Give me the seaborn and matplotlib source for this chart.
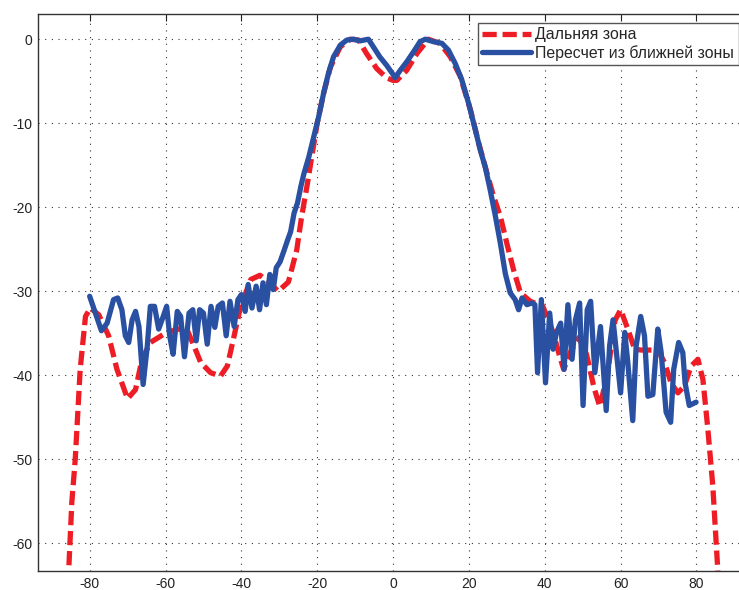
import numpy as np
import pandas as pd
import matplotlib
matplotlib.use("Agg")
import matplotlib.pyplot as plt
import seaborn as sns

# far-field pattern (red dashed)
far_angle = [-85.8, -85.5, -84.7, -83.8, -82.5, -81.1, -79.8, -77.6, -75.0, -72.8,
             -70.0, -67.9, -66.2, -64.0, -60.4, -56.9, -54.3, -52.5, -50.7, -48.1,
             -45.5, -43.7, -41.9, -40.2, -37.5, -35.1, -32.5, -30.3, -27.6, -25.4,
             -24.1, -22.7, -21.3, -20.0, -18.3, -16.5, -13.9, -11.3, -9.1, -7.0,
             -4.3, -1.7, 0.0, 1.0, 3.6, 6.3, 9.3, 12.4, 15.1, 17.7,
             20.4, 22.6, 24.8, 26.5, 28.3, 30.0, 31.8, 33.6, 36.2, 39.5,
             41.0, 42.2, 43.9, 45.0, 47.0, 49.0, 51.0, 53.0, 54.5, 56.5,
             58.5, 60.0, 61.9, 63.7, 65.4, 69.8, 71.6, 73.3, 75.1, 76.8,
             78.6, 80.4, 81.7, 83.0, 84.3, 85.6, 85.8]
far_level = [-65.0, -63.0, -55.1, -50.0, -39.3, -33.0, -32.0, -32.8, -35.3, -39.3,
             -42.8, -41.7, -38.1, -36.1, -35.1, -34.5, -34.6, -36.5, -38.5, -39.7,
             -40.1, -38.9, -35.3, -31.8, -28.6, -28.1, -29.0, -30.0, -28.9, -25.1,
             -21.1, -17.5, -13.6, -10.0, -6.4, -3.3, -0.9, 0.0, -0.1, -1.7,
             -3.5, -4.6, -4.9, -4.9, -3.7, -1.7, 0.0, -0.5, -2.1, -4.4,
             -8.4, -12.4, -16.0, -18.7, -21.1, -24.3, -27.5, -30.2, -31.2, -31.8,
             -33.5, -34.9, -37.7, -39.3, -37.0, -35.5, -37.5, -41.5, -43.7, -40.0,
             -33.5, -32.2, -34.5, -36.9, -37.0, -37.0, -38.5, -40.9, -42.1, -41.3,
             -38.9, -38.1, -40.5, -46.4, -53.1, -63.0, -65.0]

# recomputed from near field (blue solid)
near_angle = [-80.0, -78.5, -76.9, -75.4, -73.7, -72.6, -71.5, -70.6, -69.7, -68.8,
              -67.9, -67.0, -65.9, -64.8, -64.0, -62.9, -61.8, -60.6, -59.7, -58.9,
              -58.0, -56.9, -56.0, -55.0, -53.8, -52.8, -51.9, -51.0, -50.0, -49.0,
              -48.0, -47.0, -46.1, -45.0, -44.0, -43.0, -41.9, -40.9, -40.0, -39.0,
              -38.2, -37.2, -36.1, -35.2, -34.3, -33.4, -32.5, -31.6, -30.8, -29.8,
              -28.7, -27.8, -27.0, -26.1, -25.2, -24.3, -23.5, -22.2, -20.9, -19.6,
              -18.3, -17.0, -15.7, -13.9, -12.2, -10.4, -8.7, -6.5, -5.2, -3.5,
              -1.7, 0.0, 0.5, 1.9, 3.6, 5.4, 7.1, 8.5, 10.7, 12.9,
              14.6, 16.4, 18.1, 19.9, 21.7, 23.0, 24.3, 25.6, 27.0, 28.3,
              29.6, 30.9, 32.2, 33.1, 34.0, 35.3, 36.6, 37.4, 38.1, 39.1,
              40.2, 41.3, 42.2, 43.1, 44.2, 45.1, 46.1, 47.2, 48.1, 49.2,
              50.1, 51.2, 52.1, 53.2, 54.7, 56.2, 57.1, 58.0, 58.9, 60.0,
              61.1, 61.9, 63.2, 64.1, 65.3, 66.3, 67.2, 68.5, 69.8, 70.7,
              72.0, 73.2, 74.0, 75.3, 76.4, 77.0, 78.1, 79.9]
near_level = [-30.6, -32.6, -34.7, -33.8, -31.0, -30.8, -32.2, -35.3, -36.1, -33.4,
              -32.4, -34.2, -41.1, -36.5, -31.8, -31.8, -34.5, -33.0, -31.8, -35.3,
              -37.5, -32.4, -33.0, -37.8, -32.6, -32.2, -35.9, -32.2, -32.6, -36.3,
              -31.8, -34.3, -31.8, -31.4, -35.3, -31.2, -34.2, -31.0, -30.4, -32.4,
              -29.2, -32.0, -29.4, -32.2, -29.0, -31.6, -28.0, -29.8, -27.2, -26.5,
              -25.1, -23.9, -22.9, -20.7, -19.5, -17.5, -16.0, -14.0, -11.6, -9.2,
              -6.4, -4.0, -2.1, -0.7, -0.1, 0.0, -0.2, 0.0, -0.9, -2.1,
              -3.1, -4.2, -4.6, -3.7, -2.7, -1.5, -0.3, 0.0, -0.3, -0.5,
              -1.3, -2.9, -4.8, -7.6, -10.8, -13.2, -15.2, -17.9, -21.1, -24.3,
              -27.9, -30.2, -31.0, -32.2, -30.8, -31.6, -31.4, -31.6, -39.7, -31.0,
              -40.9, -32.6, -36.9, -34.9, -33.8, -39.3, -31.6, -38.1, -33.4, -31.4,
              -43.6, -32.2, -31.2, -39.7, -34.2, -44.2, -36.5, -33.4, -37.3, -42.1,
              -34.9, -38.5, -45.4, -36.5, -33.0, -35.3, -42.5, -42.3, -34.5, -37.3,
              -44.4, -45.6, -39.3, -36.1, -37.3, -40.9, -43.6, -43.2]

x_ticks = [-80, -60, -40, -20, 0, 20, 40, 60, 80]
y_ticks = [-60, -50, -40, -30, -20, -10, 0]

RED = "#EE1D25"
BLUE = "#2A50A2"

sns.set_theme(style="white")
plt.rcParams["font.family"] = ["Liberation Sans", "DejaVu Sans"]
plt.rcParams["axes.unicode_minus"] = False

fig = plt.figure(figsize=(7.39, 5.90), dpi=100)
ax = fig.add_axes([37.7 / 739, 1 - 571 / 590, (745 - 37.7) / 739, (571 - 14) / 590])

far_df = pd.DataFrame({"angle": far_angle, "level": far_level})
near_df = pd.DataFrame({"angle": near_angle, "level": near_level})

sns.lineplot(data=far_df, x="angle", y="level", ax=ax, color=RED, lw=3.8,
             linestyle=(0, (2.7, 1.1)), label="Дальняя зона", sort=False, estimator=None)
sns.lineplot(data=near_df, x="angle", y="level", ax=ax, color=BLUE, lw=3.8,
             label="Пересчет из ближней зоны", sort=False, estimator=None)

ax.set_xlim(-93.7, 92.8)
ax.set_ylim(-63.3, 3.0)
ax.set_xticks(x_ticks)
ax.set_yticks(y_ticks)
ax.set_xlabel("")
ax.set_ylabel("")

ax.grid(True, color="#333333", linestyle=(0, (1, 5)), linewidth=0.8)
ax.tick_params(direction="in", length=5, width=0.8, colors="#222222",
               labelsize=10, top=True, right=True, pad=4)
for s in ax.spines.values():
    s.set_color("#333333")
    s.set_linewidth(1.0)

leg = ax.legend(loc="upper right", bbox_to_anchor=(1.0, 1 - 22.7 / 590),
                bbox_transform=fig.transFigure, fontsize=11.4, frameon=True,
                fancybox=False, edgecolor="#555555", framealpha=1,
                handlelength=3.1, handletextpad=0.25, borderpad=0.3,
                labelspacing=0.15, borderaxespad=0)
leg.get_frame().set_linewidth(1.0)

fig.savefig("out.png", dpi=100)
